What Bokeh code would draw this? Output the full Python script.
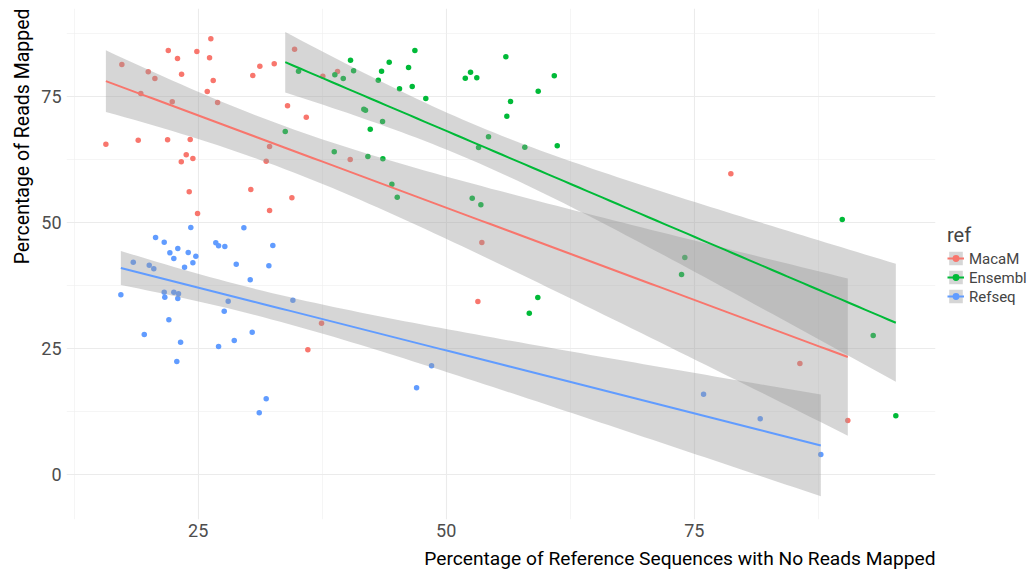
import numpy as np
from bokeh.plotting import figure
from bokeh.models import FixedTicker, Legend, LegendItem, Range1d, Title
from bokeh.embed import file_html
from bokeh.resources import INLINE

groups = ["MacaM", "Ensembl", "Refseq"]
colors = ["#F8766D", "#00BA38", "#619CFF"]

macam_x = [26.27, 21.98, 24.86, 22.91, 26.14, 17.30, 19.96, 20.63, 23.32, 26.51,
           30.50, 31.21, 32.66, 19.21, 22.38, 25.91, 26.95, 34.00, 15.69, 18.95,
           21.91, 24.19, 23.79, 23.29, 24.46, 32.19, 31.85, 24.09, 30.30, 24.93,
           32.19, 34.71, 39.04, 37.56, 35.89, 40.32, 34.44, 37.43, 36.05, 53.59,
           53.19, 78.69, 85.65, 90.48]
macam_y = [86.45, 84.13, 83.93, 82.54, 82.68, 81.35, 79.90, 78.57, 79.42, 78.17,
           79.17, 81.01, 81.49, 75.60, 73.95, 75.99, 73.81, 73.15, 65.54, 66.33,
           66.41, 66.47, 63.43, 62.04, 62.70, 65.08, 62.16, 56.09, 56.55, 51.79,
           52.38, 84.38, 79.96, 79.03, 70.89, 62.50, 54.90, 30.02, 24.74, 46.03,
           34.33, 59.66, 22.02, 10.71]

ensembl_x = [33.77, 35.11, 38.77, 39.62, 40.35, 40.66, 43.48, 44.25, 43.15, 46.20,
             46.84, 45.29, 46.57, 47.94, 41.69, 41.86, 43.58, 42.34, 38.71, 42.10,
             43.61, 44.52, 45.06, 51.92, 52.45, 56.01, 53.08, 60.89, 59.27, 56.48,
             56.11, 54.26, 53.26, 57.92, 61.19, 52.62, 53.49, 59.23, 58.37, 74.05,
             73.72, 89.92, 93.04, 95.32]
ensembl_y = [68.06, 80.02, 79.31, 78.57, 82.20, 80.10, 80.02, 81.81, 78.23, 80.75,
             84.13, 76.53, 76.98, 74.60, 72.48, 72.28, 70.04, 68.51, 64.03, 63.10,
             62.64, 57.60, 55.02, 78.63, 79.82, 82.88, 78.71, 79.11, 76.05, 74.01,
             71.09, 67.00, 64.88, 64.94, 65.22, 54.82, 53.51, 35.12, 32.00, 43.06,
             39.68, 50.60, 27.58, 11.65]

refseq_x = [24.25, 29.60, 20.70, 21.57, 26.77, 27.05, 27.68, 32.52, 22.94, 22.14,
            23.99, 24.76, 22.54, 18.45, 20.06, 20.52, 24.46, 23.62, 28.83, 32.12,
            30.24, 17.20, 21.57, 22.54, 23.01, 21.63, 22.94, 28.02, 27.62, 22.04,
            19.56, 30.44, 23.22, 27.05, 28.63, 22.84, 31.85, 31.15, 34.54, 48.52,
            47.01, 75.94, 81.65, 87.76]
refseq_y = [49.01, 48.95, 47.02, 46.09, 45.97, 45.38, 45.24, 45.44, 44.84, 43.99,
            44.05, 43.31, 42.86, 42.12, 41.53, 40.81, 42.00, 41.13, 41.73, 41.41,
            38.63, 35.65, 36.17, 36.17, 35.85, 35.18, 34.92, 34.38, 32.40, 30.69,
            27.78, 28.23, 26.25, 25.40, 26.59, 22.42, 15.02, 12.24, 34.58, 21.57,
            17.20, 15.93, 11.05, 3.97]

x_ticks = [25, 50, 75]
y_ticks = [0, 25, 50, 75]
x_title = "Percentage of Reference Sequences with No Reads Mapped"
y_title = "Percentage of Reads Mapped"

FONT = "Roboto"
T975 = 2.018  # 95% t quantile, df = n - 2

p = figure(frame_width=869, frame_height=511,
           x_range=Range1d(11.72, 99.32), y_range=Range1d(-8.93, 92.46),
           output_backend="svg", toolbar_location=None,
           min_border_left=66, min_border_top=8, min_border_bottom=58, min_border_right=0,
           background_fill_color="white", border_fill_color="white")
p.outline_line_color = None

for ax in (p.xaxis[0], p.yaxis[0]):
    ax.axis_line_color = None
    ax.major_tick_line_color = None
    ax.minor_tick_line_color = None
    ax.major_tick_out = 0
    ax.major_tick_in = 0
    ax.minor_tick_out = 0
    ax.major_label_text_font = FONT
    ax.major_label_text_font_size = "18px"
    ax.major_label_text_color = "#4D4D4D"

p.xaxis.ticker = FixedTicker(ticks=x_ticks, minor_ticks=[12.5, 37.5, 62.5, 87.5])
p.yaxis.ticker = FixedTicker(ticks=y_ticks, minor_ticks=[-12.5, 12.5, 37.5, 62.5, 87.5])
p.xaxis.major_label_standoff = 4
p.yaxis.major_label_standoff = 5

p.add_layout(Title(text=x_title, align="right", text_font=FONT, text_font_size="19.2px",
                   text_font_style="normal", text_color="black", standoff=11), "below")
p.add_layout(Title(text=y_title, align="right", text_font=FONT, text_font_size="19.5px",
                   text_font_style="normal", text_color="black", standoff=9), "left")

for g in (p.xgrid[0], p.ygrid[0]):
    g.grid_line_color = "#EBEBEB"
    g.grid_line_width = 1.1
    g.minor_grid_line_color = "#EFEFEF"
    g.minor_grid_line_width = 0.6

data = [(macam_x, macam_y), (ensembl_x, ensembl_y), (refseq_x, refseq_y)]

pts = []
for (xs, ys), c in zip(data, colors):
    pts.append(p.scatter(xs, ys, size=5.5, color=c, line_color=None))

items = []
for (xs, ys), c, name, pr in zip(data, colors, groups, pts):
    x = np.array(xs, dtype=float)
    y = np.array(ys, dtype=float)
    n = len(x)
    b, a = np.polyfit(x, y, 1)
    resid = y - (a + b * x)
    s = np.sqrt(np.sum(resid ** 2) / (n - 2))
    xbar = x.mean()
    sxx = np.sum((x - xbar) ** 2)
    xg = np.linspace(x.min(), x.max(), 80)
    yg = a + b * xg
    se = s * np.sqrt(1.0 / n + (xg - xbar) ** 2 / sxx)
    rib = p.varea(x=xg, y1=yg - T975 * se, y2=yg + T975 * se,
                  fill_color="#999999", fill_alpha=0.4)
    ln = p.line(xg, yg, line_color=c, line_width=2)
    items.append(LegendItem(label=name, renderers=[rib, ln, pr]))

legend = Legend(items=items, title="ref", location="left")
legend.title_text_font = FONT
legend.title_text_font_size = "20px"
legend.title_text_font_style = "normal"
legend.title_standoff = 3
legend.label_text_font = FONT
legend.label_text_font_size = "15px"
legend.label_standoff = 5
legend.glyph_width = 17
legend.glyph_height = 17
legend.spacing = 1
legend.padding = 0
legend.margin = 12
legend.border_line_color = None
legend.background_fill_alpha = 0
p.add_layout(legend, "right")

open("out.html", "w").write(file_html(p, INLINE))
